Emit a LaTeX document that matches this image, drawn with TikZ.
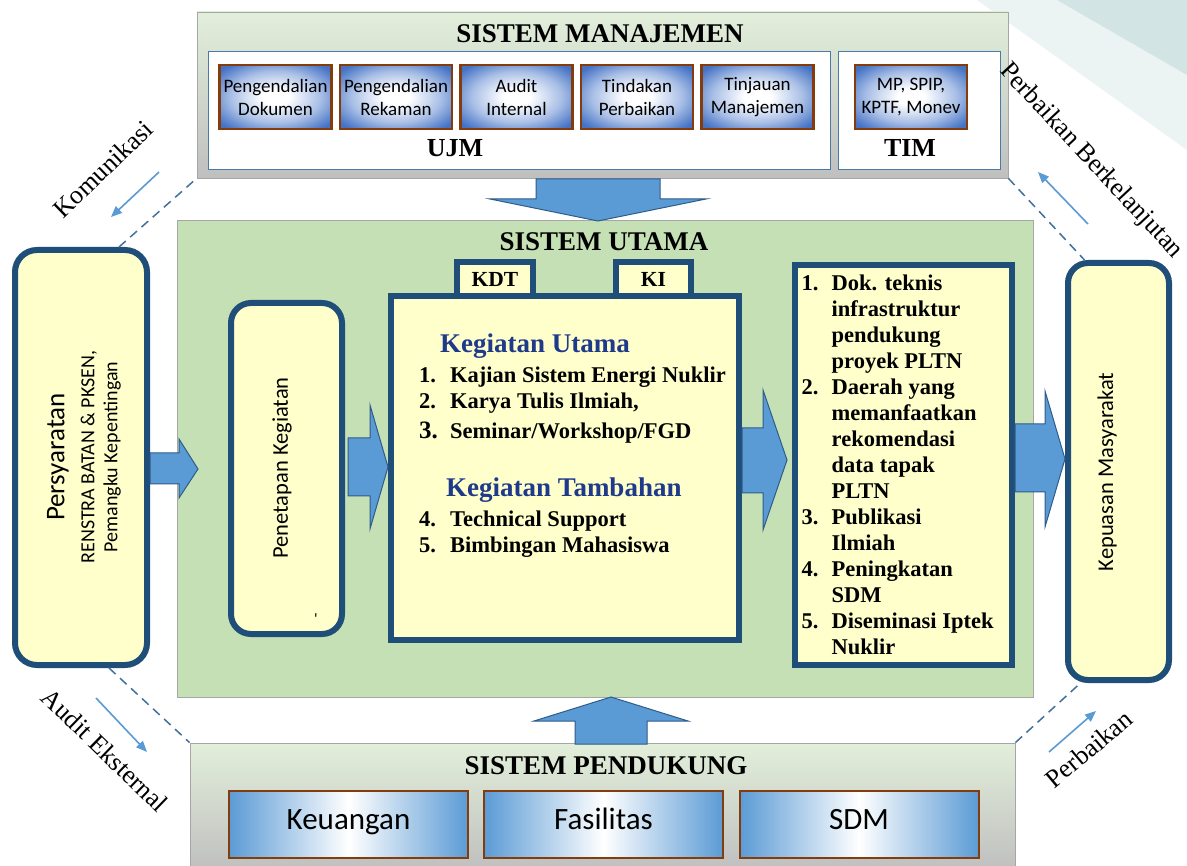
\documentclass[tikz,border=0pt]{standalone}
\usepackage{fontspec}
\setmainfont{Liberation Serif}
\setsansfont{Carlito}
\usetikzlibrary{arrows.meta,positioning,calc}
\definecolor{bsblue}{HTML}{1F4E79}
\definecolor{bsyellow}{HTML}{FFFFCC}
\definecolor{bsgreen}{HTML}{C5E0B4}
\definecolor{bslight}{HTML}{E2EFDA}
\definecolor{bsgray}{HTML}{BFBFBF}
\definecolor{bsedge}{HTML}{A6A6A6}
\definecolor{bsframe}{HTML}{4A7AA6}
\definecolor{bsarrow}{HTML}{5B9BD5}
\definecolor{bsarrowdk}{HTML}{2E5C8A}
\definecolor{bsdash}{HTML}{41719C}
\definecolor{bsbrown}{HTML}{843C0C}
\definecolor{bsmid}{HTML}{4472C4}
\definecolor{bssoft}{HTML}{A9BFE6}
\definecolor{bshead}{HTML}{1F3A8A}
\definecolor{bsteal}{HTML}{D3E4E4}
\pgfdeclareradialshading{mgshade}{\pgfpoint{0bp}{0bp}}{%
  color(0bp)=(white); color(6bp)=(white); color(20bp)=(bssoft);
  color(32bp)=(bsmid); color(50bp)=(bsmid)}

\begin{document}
\begin{tikzpicture}[x=1pt,y=-1pt,
  sysbox/.style={rectangle,draw=bsedge,line width=0.8pt,top color=bslight,
                 bottom color=bsgray,inner sep=0pt},
  inbox/.style={rectangle,draw=bsframe,line width=1pt,fill=white,inner sep=0pt},
  mgbox/.style={rectangle,draw=bsbrown,line width=2.5pt,shading=mgshade,
                minimum width=112pt,minimum height=64pt,
                font=\sffamily\fontsize{19}{23}\selectfont,align=center,inner sep=0pt},
  pdbox/.style={rectangle,draw=bsbrown,line width=2pt,left color=bsarrow,
                right color=bsarrow,middle color=white,minimum width=239pt,
                minimum height=67pt,text height=20pt,text depth=9pt,
                font=\sffamily\fontsize{31}{34}\selectfont,inner sep=0pt},
  rbox/.style={rectangle,rounded corners=20pt,draw=bsblue,line width=6pt,
               fill=bsyellow,inner sep=0pt},
  kbox/.style={rectangle,draw=bsblue,line width=6pt,fill=bsyellow,inner sep=0pt},
  vlbl/.style={rotate=90,font=\sffamily\fontsize{22.5}{26}\selectfont,inner sep=0pt},
  title/.style={font=\bfseries\fontsize{27}{30}\selectfont,inner sep=0pt},
  khead/.style={font=\bfseries\fontsize{27}{30}\selectfont,text=bshead,inner sep=0pt},
  item/.style={font=\bfseries\fontsize{22.5}{26}\selectfont,inner sep=0pt},
  blk/.style={draw=bsarrowdk,line width=1pt,fill=bsarrow},
  cycline/.style={draw=bsdash,line width=1.5pt,dash pattern=on 9pt off 6pt},
  flow/.style={-{Triangle[length=11pt,width=9pt]},draw=bsarrow,line width=1.6pt},
  cyclbl/.style={font=\fontsize{26}{28}\selectfont,inner sep=0pt}
]
  \useasboundingbox (0,0) rectangle (1187,866);
  \clip (0,0) rectangle (1187,866);
  \fill[white] (0,0) rectangle (1187,866);

  % ---- corner decoration -------------------------------------
  \fill[bsteal!45] (977,0) -- (1187,0) -- (1187,150) -- cycle;
  \fill[bsteal] (1057,0) -- (1187,0) -- (1187,75) -- cycle;

  % ---- Sistem Manajemen --------------------------------------
  \node[sysbox,minimum width=811pt,minimum height=166pt] (mgmt) at (602.5,95) {};
  \node[title] (mgmttitle) at (600,34) {SISTEM MANAJEMEN};
  \node[inbox,minimum width=622pt,minimum height=118pt] (ujm) at (519,111) {};
  \node[inbox,minimum width=162pt,minimum height=118pt] (tim) at (919,111) {};
  \node[mgbox] (dok) at (275.5,97) {Pengendalian\\Dokumen};
  \node[mgbox,right=6pt of dok] (rek) {Pengendalian\\Rekaman};
  \node[mgbox,right=6pt of rek] (audit) {Audit\\Internal};
  \node[mgbox,right=6pt of audit] (tindak) {Tindakan\\Perbaikan};
  \node[mgbox,right=6pt of tindak] (tinjau) {Tinjauan\\Manajemen};
  \node[mgbox] (monev) at (911,97) {MP, SPIP,\\KPTF, Monev};
  \node[title,font=\bfseries\fontsize{26}{30}\selectfont] (ujmlbl) at (455,148) {UJM};
  \node[title,font=\bfseries\fontsize{26}{30}\selectfont] (timlbl) at (910,148) {TIM};

  % ---- Sistem Utama ------------------------------------------
  \node[rectangle,draw=bsedge,line width=0.8pt,fill=bsgreen,minimum width=856pt,
        minimum height=477pt,inner sep=0pt] (utama) at (605,458.5) {};
  \node[title] (utamatitle) at (604,242) {SISTEM UTAMA};

  % down arrow from Sistem Manajemen
  \draw[blk] (536,179) -- (536,199) -- (490,199) -- (598,221) -- (706,199)
    -- (660,199) -- (660,179) -- cycle;

  % ---- Persyaratan and Kepuasan ------------------------------
  \node[rbox,rounded corners=22pt,minimum width=132pt,minimum height=415pt]
    (pers) at (81,457.5) {};
  \node[rotate=90,align=center,font=\sffamily\fontsize{20}{23}\selectfont,inner sep=0pt]
    (perslbl) at (84,457)
    {{\fontsize{27}{30}\selectfont Persyaratan}\\[7pt]
     RENSTRA BATAN \& PKSEN,\\Pemangku Kepentingan};

  \node[rbox,minimum width=101pt,minimum height=417pt] (kep) at (1118.5,471.5) {};
  \node[vlbl] (keplbl) at (1107,472) {Kepuasan Masyarakat};

  % ---- Penetapan Kegiatan ------------------------------------
  \node[rbox,minimum width=111pt,minimum height=331pt] (pen) at (286.5,468.5) {};
  \node[vlbl] (penlbl) at (282,468) {Penetapan Kegiatan};
  \node[font=\sffamily\fontsize{16}{16}\selectfont,inner sep=0pt] (pentick)
    at (316,619) {\textquotesingle};

  % ---- Kegiatan box with tabs --------------------------------
  \node[kbox,minimum width=76pt,minimum height=34pt,
        font=\bfseries\fontsize{21.5}{24}\selectfont] (kdt) at (495,279) {KDT};
  \node[kbox,minimum width=75pt,minimum height=34pt,
        font=\bfseries\fontsize{21.5}{24}\selectfont] (ki) at (653.5,279) {KI};
  \node[kbox,minimum width=348pt,minimum height=344pt] (keg) at (565,468) {};

  \node[khead,anchor=base west] (kuhead) at (440,353) {Kegiatan Utama};
  \node[item,anchor=base west] (ku1) at (419,383)
    {\makebox[31pt][l]{1.}Kajian Sistem Energi Nuklir};
  \node[item,anchor=base west] (ku2) at (419,409)
    {\makebox[31pt][l]{2.}Karya Tulis Ilmiah,};
  \node[item,anchor=base west] (ku3) at (419,439)
    {\makebox[31pt][l]{\fontsize{25}{27}\selectfont 3.}Seminar/Workshop/FGD};
  \node[khead,anchor=base west] (kthead) at (446,497) {Kegiatan Tambahan};
  \node[item,anchor=base west] (kt4) at (419,526)
    {\makebox[31pt][l]{4.}Technical Support};
  \node[item,anchor=base west] (kt5) at (419,552)
    {\makebox[31pt][l]{5.}Bimbingan Mahasiswa};

  % ---- Hasil box ---------------------------------------------
  \node[kbox,minimum width=217pt,minimum height=400pt] (res) at (903.5,465) {};
  \node[item,anchor=north west,align=left] (reslist) at (801.5,274.7)
    {\rule{0pt}{16pt}\makebox[30pt][l]{1.}Dok. teknis\\
     \hspace*{30pt}infrastruktur\\
     \hspace*{30pt}pendukung\\
     \hspace*{30pt}proyek PLTN\\
     \makebox[30pt][l]{2.}Daerah yang\\
     \hspace*{30pt}memanfaatkan\\
     \hspace*{30pt}rekomendasi\\
     \hspace*{30pt}data tapak\\
     \hspace*{30pt}PLTN\\
     \makebox[30pt][l]{3.}Publikasi\\
     \hspace*{30pt}Ilmiah\\
     \makebox[30pt][l]{4.}Peningkatan\\
     \hspace*{30pt}SDM\\
     \makebox[30pt][l]{5.}Diseminasi Iptek\\
     \hspace*{30pt}Nuklir};

  % ---- Block arrows between the boxes ------------------------
  \draw[blk] (150,453) -- (179,453) -- (179,439) -- (198,469) -- (179,498)
    -- (179,484) -- (150,484) -- cycle;
  \draw[blk] (348,438) -- (370,438) -- (370,405) -- (388,467) -- (370,529)
    -- (370,496) -- (348,496) -- cycle;
  \draw[blk] (742,428) -- (763,428) -- (763,390) -- (787,460) -- (763,530)
    -- (763,493) -- (742,493) -- cycle;
  \draw[blk] (1015,424) -- (1045,424) -- (1045,391) -- (1065,459) -- (1045,527)
    -- (1045,492) -- (1015,492) -- cycle;

  % ---- Sistem Pendukung --------------------------------------
  \node[sysbox,minimum width=825pt,minimum height=128pt] (supp) at (602.5,807) {};
  \node[title] (supptitle) at (606,766) {SISTEM PENDUKUNG};
  \node[pdbox] (uang) at (348.5,824) {Keuangan};
  \node[pdbox] (fasil) at (603.5,824) {Fasilitas};
  \node[pdbox] (sdm) at (859,824) {SDM};

  % up arrow into Sistem Utama
  \draw[blk] (575,744) -- (575,721) -- (534,721) -- (611,697) -- (688,721)
    -- (647,721) -- (647,744) -- cycle;

  % ---- Dashed cycle lines ------------------------------------
  \draw[cycline] ($(pers.north)+(38,0)$) -- (mgmt.south west);
  \draw[cycline] ($(pers.south)+(28,0)$) -- (supp.north west);
  \draw[cycline] (mgmt.south east) -- ($(kep.north)+(-34,0)$);
  \draw[cycline] (supp.north east) -- ($(kep.south)+(-38,0)$);

  % ---- Cycle arrows and labels -------------------------------
  \coordinate (komA) at (159,172);
  \coordinate (komB) at (111,217);
  \coordinate (audA) at (96,698);
  \coordinate (audB) at (147,752);
  \coordinate (berA) at (1088,224);
  \coordinate (berB) at (1038,172);
  \coordinate (perA) at (1049,752);
  \coordinate (perB) at (1096,711);
  \draw[flow] (komA) -- (komB);
  \draw[flow] (audA) -- (audB);
  \draw[flow] (berA) -- (berB);
  \draw[flow] (perA) -- (perB);

  \node[cyclbl,rotate=44] (komlbl) at (103,169) {Komunikasi};
  \node[cyclbl,rotate=-44] (audlbl) at (105,750) {Audit Eksternal};
  \node[cyclbl,rotate=-47] (berlbl) at (1091,161) {Perbaikan Berkelanjutan};
  \node[cyclbl,rotate=40] (perlbl) at (1089,749) {Perbaikan};

\end{tikzpicture}
\end{document}
